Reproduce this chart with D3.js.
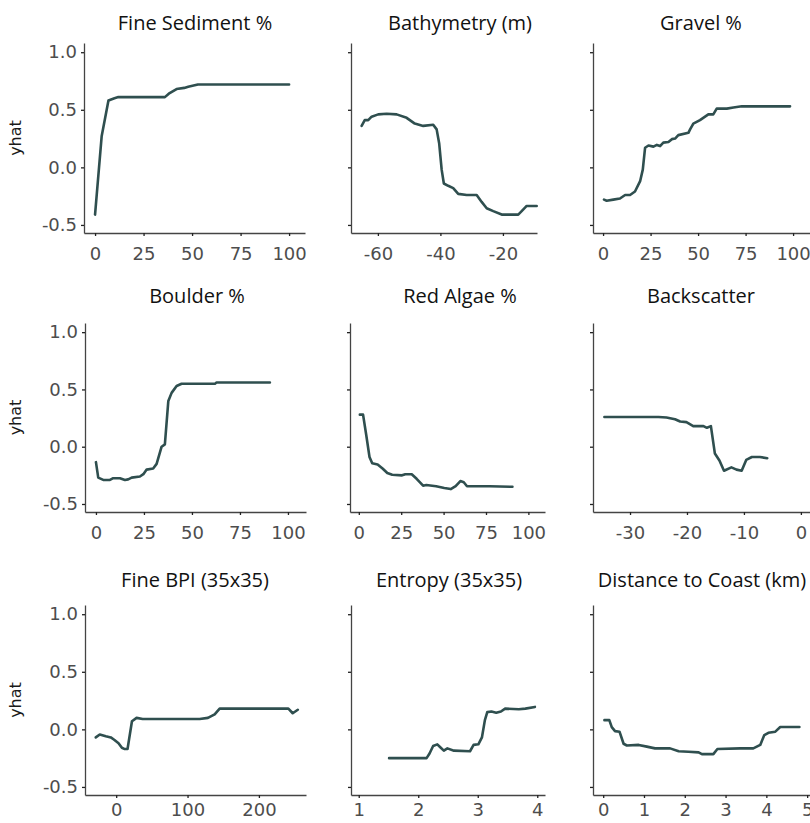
<!DOCTYPE html>
<html>
<head>
<meta charset="utf-8">
<script src="https://cdn.jsdelivr.net/npm/d3@7/dist/d3.min.js"></script>
<style>
  body { margin: 0; background: #fff; }
</style>
</head>
<body>
<div id="chart"></div>
<script>
// partial dependence curves, [x, yhat]
const fineSediment = [[0,-0.41],[3.4,0.27],[6.9,0.58],[10,0.60],[12,0.61],[36,0.61],[38,0.64],[42,0.68],[46,0.69],[48,0.70],[53,0.72],[100,0.72]];
const bathymetry = [[-65.2,0.36],[-64.2,0.41],[-63.1,0.41],[-62,0.44],[-59.9,0.46],[-57.2,0.465],[-54,0.46],[-50.8,0.43],[-48.2,0.38],[-45.5,0.36],[-42.3,0.37],[-41.2,0.33],[-40.4,0.21],[-39.6,-0.02],[-38.9,-0.14],[-37.5,-0.16],[-35.9,-0.18],[-34.3,-0.23],[-31.6,-0.24],[-28.4,-0.24],[-26.8,-0.30],[-25.2,-0.355],[-23.1,-0.38],[-20.4,-0.41],[-15.1,-0.41],[-14,-0.38],[-12.4,-0.335],[-9.2,-0.335]];
const gravel = [[0.5,-0.28],[1.9,-0.29],[5.4,-0.28],[8.9,-0.27],[11.6,-0.24],[14.2,-0.24],[16.8,-0.21],[19.5,-0.12],[20.9,-0.02],[22.1,0.17],[23.9,0.19],[26.5,0.18],[28.3,0.195],[30,0.185],[31.7,0.215],[34.4,0.22],[36.2,0.245],[37.9,0.25],[39.6,0.28],[44.9,0.30],[45.8,0.33],[47.5,0.38],[51,0.41],[55.4,0.46],[58,0.46],[59.8,0.51],[65.1,0.51],[68.6,0.52],[73,0.53],[98.4,0.53]];
const boulder = [[0,-0.135],[1.2,-0.27],[3.8,-0.29],[7.3,-0.29],[9,-0.275],[12.5,-0.275],[15.1,-0.29],[16.8,-0.285],[18.6,-0.27],[22.9,-0.26],[24.7,-0.24],[26.4,-0.20],[29.8,-0.19],[31.6,-0.15],[34.2,0.0],[35.9,0.02],[37.7,0.40],[39.4,0.47],[42,0.53],[44.6,0.55],[62,0.55],[62.8,0.56],[90.6,0.56]];
const redAlgae = [[0.6,0.28],[2.5,0.28],[4.4,0.10],[6.3,-0.09],[7.9,-0.145],[11.1,-0.155],[14,-0.19],[16.8,-0.23],[19.7,-0.245],[25.5,-0.25],[27.4,-0.24],[31.2,-0.24],[34.1,-0.28],[37.9,-0.34],[39.8,-0.335],[45.6,-0.345],[50.4,-0.36],[54.2,-0.37],[57.1,-0.345],[59.9,-0.30],[61.9,-0.31],[63.8,-0.345],[77.2,-0.345],[90.6,-0.35]];
const backscatter = [[-34.5,0.26],[-25,0.26],[-23.6,0.255],[-22.1,0.24],[-21.2,0.22],[-20.1,0.215],[-18.9,0.18],[-17.1,0.18],[-16.5,0.165],[-15.8,0.18],[-15.1,-0.06],[-14.3,-0.12],[-13.5,-0.21],[-12.2,-0.18],[-11.3,-0.20],[-10.4,-0.21],[-9.6,-0.115],[-8.6,-0.09],[-7.2,-0.09],[-5.9,-0.10]];
const fineBPI = [[-28.6,-0.07],[-23,-0.045],[-14.5,-0.06],[-7.5,-0.07],[-2.8,-0.09],[3.3,-0.12],[8,-0.16],[11.3,-0.17],[15.9,-0.17],[22.1,0.07],[28.6,0.10],[37.1,0.09],[117,0.09],[128.6,0.10],[138,0.13],[145,0.18],[149.8,0.18],[241.3,0.18],[247.4,0.14],[254.5,0.17]];
const entropy = [[1.51,-0.25],[2.14,-0.25],[2.19,-0.21],[2.25,-0.145],[2.32,-0.13],[2.37,-0.155],[2.43,-0.185],[2.49,-0.165],[2.6,-0.185],[2.87,-0.19],[2.93,-0.135],[3.01,-0.13],[3.07,-0.07],[3.12,0.08],[3.16,0.15],[3.23,0.155],[3.31,0.145],[3.39,0.155],[3.46,0.18],[3.69,0.175],[3.8,0.18],[3.96,0.195]];
const distCoast = [[0.03,0.08],[0.15,0.08],[0.21,0.02],[0.29,-0.015],[0.40,-0.02],[0.50,-0.125],[0.58,-0.14],[0.87,-0.135],[1.07,-0.15],[1.27,-0.165],[1.64,-0.165],[1.85,-0.19],[2.09,-0.195],[2.34,-0.20],[2.42,-0.215],[2.70,-0.215],[2.80,-0.17],[3.36,-0.165],[3.68,-0.165],[3.85,-0.135],[3.95,-0.05],[4.05,-0.03],[4.22,-0.02],[4.34,0.02],[4.81,0.02]];

const titles = ["Fine Sediment %", "Bathymetry (m)", "Gravel %", "Boulder %", "Red Algae %", "Backscatter",
  "Fine BPI (35x35)", "Entropy (35x35)", "Distance to Coast (km)"];
const series = [fineSediment, bathymetry, gravel, boulder, redAlgae, backscatter, fineBPI, entropy, distCoast];
const xTicks = [[0,25,50,75,100], [-60,-40,-20], [0,25,50,75,100], [0,25,50,75,100], [0,25,50,75,100],
  [-30,-20,-10,0], [0,100,200], [1,2,3,4], [0,1,2,3,4,5]];
const xLimits = [[-5.7,108.2], [-68.6,-9.1], [-5.3,108.9], [-5.7,109.4], [-5.2,109.8],
  [-36.5,1.6], [-43.7,266], [0.87,4.13], [-0.25,5.07]];
const yTicks = [-0.5, 0, 0.5, 1.0];
const yLimits = [-0.57, 1.08];
const yLabel = "yhat";

// layout (pixels)
const width = 810, height = 823;
const rows = [[43, 233], [323, 512], [605, 795]];
const xPad = [11, 11, 5];
const cols = [[84, 305], [351, 545], [593, 810]];
const titleY = [30, 303, 587];
const titleX = [195, 460, 701, 197, 460, 701, 195, 449, 702];
const lineColor = "#2f4f4f";

const svg = d3.select("#chart").append("svg")
  .attr("width", width)
  .attr("height", height);

series.forEach((data, i) => {
  const r = Math.floor(i / 3), c = i % 3;
  const [top, bottom] = rows[r];
  let [left, right] = cols[c];
  if (i === 1) right = 537;
  if (i === 3 || i === 6) { left = 85; right = 306; }
  if (i === 4) left = 350;

  const x = d3.scaleLinear().domain(xLimits[i]).range([left, right]);
  const y = d3.scaleLinear().domain(yLimits).range([bottom, top]);

  const g = svg.append("g").classed("panel", true);

  const yAxis = g.append("g")
    .attr("transform", `translate(${left},0)`)
    .call(d3.axisLeft(y).tickValues(yTicks).tickSize(3).tickSizeOuter(0).tickPadding(4)
      .tickFormat(c === 0 ? d => d.toFixed(1) : () => ""));
  const xAxis = g.append("g")
    .attr("transform", `translate(0,${bottom})`)
    .call(d3.axisBottom(x).tickValues(xTicks[i]).tickSize(3).tickSizeOuter(0).tickPadding(xPad[r])
      .tickFormat(d => String(d)));

  [yAxis, xAxis].forEach(a => {
    a.select(".domain").attr("stroke", "#444").attr("stroke-width", 1.3);
    a.selectAll(".tick line").attr("stroke", "#222").attr("stroke-width", 1.3);
    a.selectAll(".tick text")
      .attr("font-family", "'DejaVu Sans', sans-serif")
      .attr("font-size", 18)
      .attr("fill", "#4d4d4d");
  });

  g.append("path")
    .datum(data)
    .attr("fill", "none")
    .attr("stroke", lineColor)
    .attr("stroke-width", 2.6)
    .attr("stroke-linejoin", "round")
    .attr("stroke-linecap", "round")
    .attr("d", d3.line().x(d => x(d[0])).y(d => y(d[1])));

  g.append("text")
    .attr("x", titleX[i])
    .attr("y", titleY[r])
    .attr("text-anchor", "middle")
    .attr("font-family", "'Open Sans', sans-serif")
    .attr("font-size", 20)
    .attr("fill", "#111")
    .text(titles[i]);

  if (c === 0) {
    g.append("text")
      .attr("transform", `translate(21,${(top + bottom) / 2}) rotate(-90)`)
      .attr("text-anchor", "middle")
      .attr("font-family", "'DejaVu Sans', sans-serif")
      .attr("font-size", 16)
      .attr("fill", "#1a1a1a")
      .text(yLabel);
  }
});
</script>
</body>
</html>
